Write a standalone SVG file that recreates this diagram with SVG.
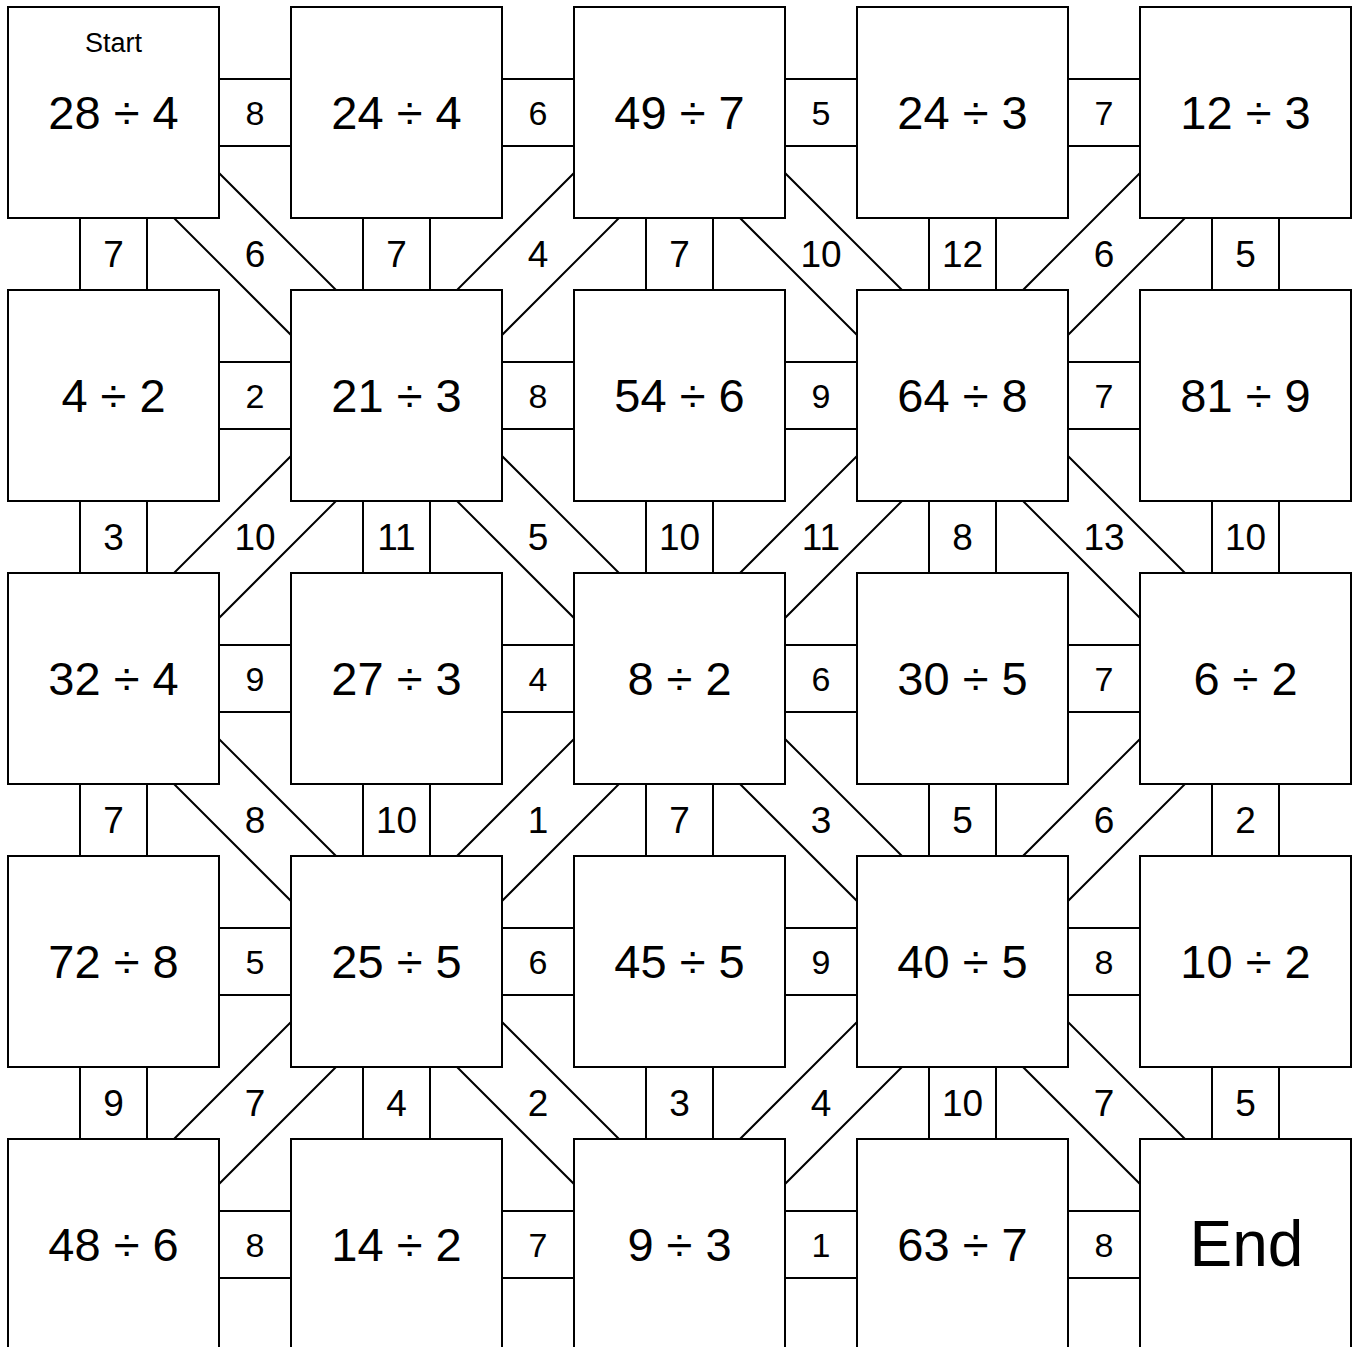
<svg xmlns="http://www.w3.org/2000/svg" xmlns:xlink="http://www.w3.org/1999/xlink" width="1359" height="1347" viewBox="0 0 1359 1347">
<style>
.bg{fill:#fff}
.box{fill:#fff;stroke:#000;stroke-width:2}
.con{fill:#fff;stroke:#000;stroke-width:2}
.bl{font-family:"Liberation Sans",Arial,sans-serif;font-size:47px;text-anchor:middle;fill:#000}
.hl{font-family:"Liberation Sans",Arial,sans-serif;font-size:34px;text-anchor:middle;fill:#000}
.vl{font-family:"Liberation Sans",Arial,sans-serif;font-size:37px;text-anchor:middle;fill:#000}
.st{font-family:"Liberation Sans",Arial,sans-serif;font-size:27px;text-anchor:middle;fill:#000}
.en{font-family:"Liberation Sans",Arial,sans-serif;font-size:64px;text-anchor:middle;fill:#000}
</style>
<defs>
<polygon id="dd" class="con" points="22.5,-22.5 305.5,260.5 260.5,305.5 -22.5,22.5"/>
<polygon id="du" class="con" points="-22.5,-22.5 -305.5,260.5 -260.5,305.5 22.5,22.5"/>
</defs>
<rect class="bg" x="0" y="0" width="1359" height="1347"/>
<g id="connectors">
<!-- horizontal connectors -->
<g><rect class="con" x="219" y="79" width="72" height="67"/><text class="hl" x="255" y="124.5">8</text></g>
<g><rect class="con" x="502" y="79" width="72" height="67"/><text class="hl" x="538" y="124.5">6</text></g>
<g><rect class="con" x="785" y="79" width="72" height="67"/><text class="hl" x="821" y="124.5">5</text></g>
<g><rect class="con" x="1068" y="79" width="72" height="67"/><text class="hl" x="1104" y="124.5">7</text></g>

<g><rect class="con" x="219" y="362" width="72" height="67"/><text class="hl" x="255" y="407.5">2</text></g>
<g><rect class="con" x="502" y="362" width="72" height="67"/><text class="hl" x="538" y="407.5">8</text></g>
<g><rect class="con" x="785" y="362" width="72" height="67"/><text class="hl" x="821" y="407.5">9</text></g>
<g><rect class="con" x="1068" y="362" width="72" height="67"/><text class="hl" x="1104" y="407.5">7</text></g>

<g><rect class="con" x="219" y="645" width="72" height="67"/><text class="hl" x="255" y="690.5">9</text></g>
<g><rect class="con" x="502" y="645" width="72" height="67"/><text class="hl" x="538" y="690.5">4</text></g>
<g><rect class="con" x="785" y="645" width="72" height="67"/><text class="hl" x="821" y="690.5">6</text></g>
<g><rect class="con" x="1068" y="645" width="72" height="67"/><text class="hl" x="1104" y="690.5">7</text></g>

<g><rect class="con" x="219" y="928" width="72" height="67"/><text class="hl" x="255" y="973.5">5</text></g>
<g><rect class="con" x="502" y="928" width="72" height="67"/><text class="hl" x="538" y="973.5">6</text></g>
<g><rect class="con" x="785" y="928" width="72" height="67"/><text class="hl" x="821" y="973.5">9</text></g>
<g><rect class="con" x="1068" y="928" width="72" height="67"/><text class="hl" x="1104" y="973.5">8</text></g>

<g><rect class="con" x="219" y="1211" width="72" height="67"/><text class="hl" x="255" y="1256.5">8</text></g>
<g><rect class="con" x="502" y="1211" width="72" height="67"/><text class="hl" x="538" y="1256.5">7</text></g>
<g><rect class="con" x="785" y="1211" width="72" height="67"/><text class="hl" x="821" y="1256.5">1</text></g>
<g><rect class="con" x="1068" y="1211" width="72" height="67"/><text class="hl" x="1104" y="1256.5">8</text></g>

<!-- vertical connectors -->
<g><rect class="con" x="80" y="218" width="67" height="72"/><text class="vl" x="113.5" y="266.5">7</text></g>
<g><rect class="con" x="363" y="218" width="67" height="72"/><text class="vl" x="396.5" y="266.5">7</text></g>
<g><rect class="con" x="646" y="218" width="67" height="72"/><text class="vl" x="679.5" y="266.5">7</text></g>
<g><rect class="con" x="929" y="218" width="67" height="72"/><text class="vl" x="962.5" y="266.5">12</text></g>
<g><rect class="con" x="1212" y="218" width="67" height="72"/><text class="vl" x="1245.5" y="266.5">5</text></g>

<g><rect class="con" x="80" y="501" width="67" height="72"/><text class="vl" x="113.5" y="549.5">3</text></g>
<g><rect class="con" x="363" y="501" width="67" height="72"/><text class="vl" x="396.5" y="549.5">11</text></g>
<g><rect class="con" x="646" y="501" width="67" height="72"/><text class="vl" x="679.5" y="549.5">10</text></g>
<g><rect class="con" x="929" y="501" width="67" height="72"/><text class="vl" x="962.5" y="549.5">8</text></g>
<g><rect class="con" x="1212" y="501" width="67" height="72"/><text class="vl" x="1245.5" y="549.5">10</text></g>

<g><rect class="con" x="80" y="784" width="67" height="72"/><text class="vl" x="113.5" y="832.5">7</text></g>
<g><rect class="con" x="363" y="784" width="67" height="72"/><text class="vl" x="396.5" y="832.5">10</text></g>
<g><rect class="con" x="646" y="784" width="67" height="72"/><text class="vl" x="679.5" y="832.5">7</text></g>
<g><rect class="con" x="929" y="784" width="67" height="72"/><text class="vl" x="962.5" y="832.5">5</text></g>
<g><rect class="con" x="1212" y="784" width="67" height="72"/><text class="vl" x="1245.5" y="832.5">2</text></g>

<g><rect class="con" x="80" y="1067" width="67" height="72"/><text class="vl" x="113.5" y="1115.5">9</text></g>
<g><rect class="con" x="363" y="1067" width="67" height="72"/><text class="vl" x="396.5" y="1115.5">4</text></g>
<g><rect class="con" x="646" y="1067" width="67" height="72"/><text class="vl" x="679.5" y="1115.5">3</text></g>
<g><rect class="con" x="929" y="1067" width="67" height="72"/><text class="vl" x="962.5" y="1115.5">10</text></g>
<g><rect class="con" x="1212" y="1067" width="67" height="72"/><text class="vl" x="1245.5" y="1115.5">5</text></g>

<!-- diagonal connectors -->
<g><use xlink:href="#dd" href="#dd" x="113.5" y="112.5"/><text class="vl" x="255" y="266.5">6</text></g>
<g><use xlink:href="#du" href="#du" x="679.5" y="112.5"/><text class="vl" x="538" y="266.5">4</text></g>
<g><use xlink:href="#dd" href="#dd" x="679.5" y="112.5"/><text class="vl" x="821" y="266.5">10</text></g>
<g><use xlink:href="#du" href="#du" x="1245.5" y="112.5"/><text class="vl" x="1104" y="266.5">6</text></g>

<g><use xlink:href="#du" href="#du" x="396.5" y="395.5"/><text class="vl" x="255" y="549.5">10</text></g>
<g><use xlink:href="#dd" href="#dd" x="396.5" y="395.5"/><text class="vl" x="538" y="549.5">5</text></g>
<g><use xlink:href="#du" href="#du" x="962.5" y="395.5"/><text class="vl" x="821" y="549.5">11</text></g>
<g><use xlink:href="#dd" href="#dd" x="962.5" y="395.5"/><text class="vl" x="1104" y="549.5">13</text></g>

<g><use xlink:href="#dd" href="#dd" x="113.5" y="678.5"/><text class="vl" x="255" y="832.5">8</text></g>
<g><use xlink:href="#du" href="#du" x="679.5" y="678.5"/><text class="vl" x="538" y="832.5">1</text></g>
<g><use xlink:href="#dd" href="#dd" x="679.5" y="678.5"/><text class="vl" x="821" y="832.5">3</text></g>
<g><use xlink:href="#du" href="#du" x="1245.5" y="678.5"/><text class="vl" x="1104" y="832.5">6</text></g>

<g><use xlink:href="#du" href="#du" x="396.5" y="961.5"/><text class="vl" x="255" y="1115.5">7</text></g>
<g><use xlink:href="#dd" href="#dd" x="396.5" y="961.5"/><text class="vl" x="538" y="1115.5">2</text></g>
<g><use xlink:href="#du" href="#du" x="962.5" y="961.5"/><text class="vl" x="821" y="1115.5">4</text></g>
<g><use xlink:href="#dd" href="#dd" x="962.5" y="961.5"/><text class="vl" x="1104" y="1115.5">7</text></g>
</g>

<!-- row 0 -->
<g id="n00"><rect class="box" x="8" y="7" width="211" height="211"/><text class="st" x="113.5" y="51.5">Start</text><text class="bl" x="113.5" y="128.5">28 ÷ 4</text></g>
<g id="n01"><rect class="box" x="291" y="7" width="211" height="211"/><text class="bl" x="396.5" y="128.5">24 ÷ 4</text></g>
<g id="n02"><rect class="box" x="574" y="7" width="211" height="211"/><text class="bl" x="679.5" y="128.5">49 ÷ 7</text></g>
<g id="n03"><rect class="box" x="857" y="7" width="211" height="211"/><text class="bl" x="962.5" y="128.5">24 ÷ 3</text></g>
<g id="n04"><rect class="box" x="1140" y="7" width="211" height="211"/><text class="bl" x="1245.5" y="128.5">12 ÷ 3</text></g>
<!-- row 1 -->
<g id="n10"><rect class="box" x="8" y="290" width="211" height="211"/><text class="bl" x="113.5" y="411.5">4 ÷ 2</text></g>
<g id="n11"><rect class="box" x="291" y="290" width="211" height="211"/><text class="bl" x="396.5" y="411.5">21 ÷ 3</text></g>
<g id="n12"><rect class="box" x="574" y="290" width="211" height="211"/><text class="bl" x="679.5" y="411.5">54 ÷ 6</text></g>
<g id="n13"><rect class="box" x="857" y="290" width="211" height="211"/><text class="bl" x="962.5" y="411.5">64 ÷ 8</text></g>
<g id="n14"><rect class="box" x="1140" y="290" width="211" height="211"/><text class="bl" x="1245.5" y="411.5">81 ÷ 9</text></g>
<!-- row 2 -->
<g id="n20"><rect class="box" x="8" y="573" width="211" height="211"/><text class="bl" x="113.5" y="694.5">32 ÷ 4</text></g>
<g id="n21"><rect class="box" x="291" y="573" width="211" height="211"/><text class="bl" x="396.5" y="694.5">27 ÷ 3</text></g>
<g id="n22"><rect class="box" x="574" y="573" width="211" height="211"/><text class="bl" x="679.5" y="694.5">8 ÷ 2</text></g>
<g id="n23"><rect class="box" x="857" y="573" width="211" height="211"/><text class="bl" x="962.5" y="694.5">30 ÷ 5</text></g>
<g id="n24"><rect class="box" x="1140" y="573" width="211" height="211"/><text class="bl" x="1245.5" y="694.5">6 ÷ 2</text></g>
<!-- row 3 -->
<g id="n30"><rect class="box" x="8" y="856" width="211" height="211"/><text class="bl" x="113.5" y="977.5">72 ÷ 8</text></g>
<g id="n31"><rect class="box" x="291" y="856" width="211" height="211"/><text class="bl" x="396.5" y="977.5">25 ÷ 5</text></g>
<g id="n32"><rect class="box" x="574" y="856" width="211" height="211"/><text class="bl" x="679.5" y="977.5">45 ÷ 5</text></g>
<g id="n33"><rect class="box" x="857" y="856" width="211" height="211"/><text class="bl" x="962.5" y="977.5">40 ÷ 5</text></g>
<g id="n34"><rect class="box" x="1140" y="856" width="211" height="211"/><text class="bl" x="1245.5" y="977.5">10 ÷ 2</text></g>
<!-- row 4 -->
<g id="n40"><rect class="box" x="8" y="1139" width="211" height="211"/><text class="bl" x="113.5" y="1260.5">48 ÷ 6</text></g>
<g id="n41"><rect class="box" x="291" y="1139" width="211" height="211"/><text class="bl" x="396.5" y="1260.5">14 ÷ 2</text></g>
<g id="n42"><rect class="box" x="574" y="1139" width="211" height="211"/><text class="bl" x="679.5" y="1260.5">9 ÷ 3</text></g>
<g id="n43"><rect class="box" x="857" y="1139" width="211" height="211"/><text class="bl" x="962.5" y="1260.5">63 ÷ 7</text></g>
<g id="n44"><rect class="box" x="1140" y="1139" width="211" height="211"/><text class="en" x="1246.5" y="1265.5">End</text></g>
</svg>
